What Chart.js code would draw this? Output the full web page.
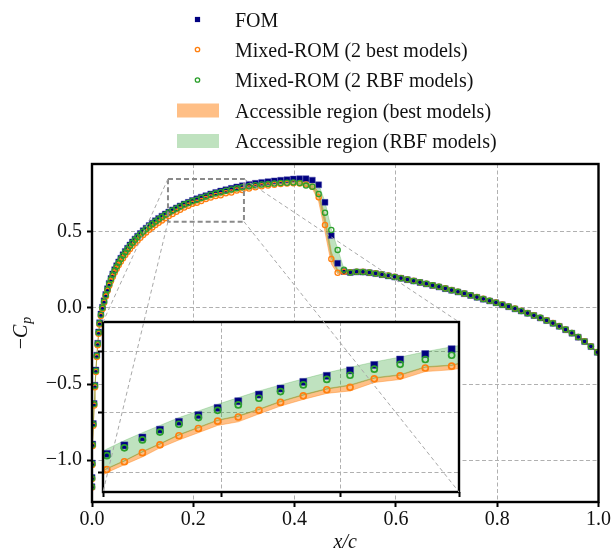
<!DOCTYPE html>
<html>
<head>
<meta charset="utf-8">
<script src="https://cdn.jsdelivr.net/npm/chart.js@4.4.1/dist/chart.umd.min.js"></script>
<style>
  html, body { margin: 0; padding: 0; background: #fff; }
  #wrap { position: relative; width: 612px; height: 555px; }
  #wrap canvas { position: absolute; left: 0; top: 0; }
  #inset { pointer-events: none; }
</style>
</head>
<body>
<div id="wrap">
  <canvas id="main" width="612" height="555"></canvas>
  <canvas id="inset" width="612" height="555"></canvas>
</div>
<script>
// chordwise stations x/c
const xc = [
  0.0000, 0.0002, 0.0006, 0.0014, 0.0026, 0.0042, 0.0059, 0.0077, 0.0095, 0.0113,
  0.0131, 0.0150, 0.0176, 0.0206, 0.0238, 0.0272, 0.0305, 0.0339, 0.0374, 0.0410,
  0.0448, 0.0487, 0.0527, 0.0569, 0.0612, 0.0656, 0.0702, 0.0749, 0.0798, 0.0848,
  0.0900, 0.0954, 0.1010, 0.1068, 0.1128, 0.1189, 0.1251, 0.1315, 0.1380, 0.1447,
  0.1516, 0.1590, 0.1666, 0.1740, 0.1820, 0.1902, 0.1983, 0.2070, 0.2157, 0.2248,
  0.2344, 0.2443, 0.2541, 0.2643, 0.2752, 0.2858, 0.2969, 0.3100, 0.3225, 0.3350,
  0.3475, 0.3600, 0.3725, 0.3850, 0.3975, 0.4100, 0.4225, 0.4350, 0.4475, 0.4600,
  0.4725, 0.4850, 0.4975, 0.5100, 0.5225, 0.5350, 0.5475, 0.5600, 0.5725, 0.5850,
  0.5975, 0.6100, 0.6225, 0.6350, 0.6475, 0.6600, 0.6725, 0.6850, 0.6975, 0.7100,
  0.7225, 0.7350, 0.7475, 0.7600, 0.7725, 0.7850, 0.7975, 0.8100, 0.8225, 0.8350,
  0.8475, 0.8600, 0.8725, 0.8850, 0.8975, 0.9100, 0.9225, 0.9350, 0.9475, 0.9600,
  0.9725, 0.9850, 0.9975
];

// -Cp, full order model
const cpFom = [
  -1.175, -1.115, -1.020, -0.895, -0.760, -0.628, -0.508, -0.408, -0.310, -0.232,
  -0.158, -0.097, -0.040, 0.005, 0.047, 0.089, 0.127, 0.162, 0.194, 0.224,
  0.252, 0.278, 0.303, 0.327, 0.350, 0.372, 0.393, 0.414, 0.434, 0.453,
  0.472, 0.490, 0.508, 0.525, 0.542, 0.558, 0.574, 0.589, 0.604, 0.618,
  0.631, 0.645, 0.658, 0.671, 0.684, 0.695, 0.707, 0.718, 0.729, 0.739,
  0.750, 0.760, 0.769, 0.778, 0.787, 0.796, 0.804, 0.813, 0.820, 0.826,
  0.831, 0.836, 0.840, 0.844, 0.848, 0.850, 0.850, 0.841, 0.810, 0.695,
  0.476, 0.294, 0.240, 0.233, 0.237, 0.236, 0.232, 0.226, 0.219, 0.211,
  0.203, 0.195, 0.186, 0.177, 0.168, 0.158, 0.148, 0.138, 0.127, 0.116,
  0.105, 0.094, 0.082, 0.070, 0.058, 0.046, 0.034, 0.021, 0.008, -0.006,
  -0.020, -0.035, -0.050, -0.066, -0.083, -0.101, -0.121, -0.143, -0.166, -0.192,
  -0.221, -0.254, -0.292
];

// -Cp, mixed ROM with the 2 best models
const cpBest = [
  -1.180, -1.125, -1.032, -0.908, -0.774, -0.642, -0.522, -0.421, -0.323, -0.245,
  -0.170, -0.109, -0.052, -0.007, 0.034, 0.075, 0.112, 0.146, 0.177, 0.206,
  0.233, 0.258, 0.282, 0.305, 0.327, 0.348, 0.368, 0.388, 0.407, 0.426,
  0.444, 0.462, 0.480, 0.497, 0.514, 0.530, 0.546, 0.561, 0.576, 0.591,
  0.605, 0.618, 0.633, 0.646, 0.661, 0.673, 0.685, 0.692, 0.703, 0.716,
  0.727, 0.737, 0.741, 0.755, 0.760, 0.773, 0.776, 0.786, 0.794, 0.801,
  0.806, 0.811, 0.815, 0.818, 0.820, 0.818, 0.812, 0.798, 0.728, 0.546,
  0.322, 0.232, 0.238, 0.235, 0.239, 0.238, 0.234, 0.228, 0.221, 0.213,
  0.205, 0.197, 0.188, 0.179, 0.170, 0.160, 0.150, 0.140, 0.129, 0.118,
  0.107, 0.096, 0.084, 0.072, 0.060, 0.048, 0.036, 0.023, 0.010, -0.004,
  -0.018, -0.033, -0.048, -0.064, -0.081, -0.099, -0.119, -0.141, -0.164, -0.190,
  -0.219, -0.252, -0.290
];

// -Cp, mixed ROM with the 2 RBF models
const cpRbf = [
  -1.178, -1.119, -1.024, -0.899, -0.764, -0.632, -0.512, -0.412, -0.314, -0.236,
  -0.162, -0.101, -0.044, 0.001, 0.043, 0.085, 0.122, 0.157, 0.189, 0.219,
  0.247, 0.273, 0.298, 0.322, 0.345, 0.367, 0.388, 0.409, 0.429, 0.448,
  0.467, 0.485, 0.503, 0.520, 0.537, 0.553, 0.569, 0.584, 0.599, 0.614,
  0.628, 0.641, 0.654, 0.667, 0.680, 0.691, 0.703, 0.712, 0.723, 0.734,
  0.745, 0.754, 0.761, 0.771, 0.779, 0.787, 0.794, 0.801, 0.807, 0.812,
  0.816, 0.819, 0.822, 0.824, 0.826, 0.822, 0.805, 0.798, 0.750, 0.627,
  0.513, 0.382, 0.252, 0.234, 0.238, 0.237, 0.233, 0.227, 0.220, 0.212,
  0.204, 0.196, 0.187, 0.178, 0.169, 0.159, 0.149, 0.139, 0.128, 0.117,
  0.106, 0.095, 0.083, 0.071, 0.059, 0.047, 0.035, 0.022, 0.009, -0.005,
  -0.019, -0.034, -0.049, -0.065, -0.082, -0.100, -0.120, -0.142, -0.165, -0.191,
  -0.220, -0.253, -0.291
];

// accessible region, best models (lower / upper)
const bestLo = [
  -1.186, -1.131, -1.038, -0.914, -0.780, -0.648, -0.528, -0.427, -0.329, -0.251,
  -0.176, -0.115, -0.058, -0.013, 0.028, 0.069, 0.106, 0.140, 0.171, 0.200,
  0.226, 0.251, 0.275, 0.298, 0.320, 0.341, 0.361, 0.381, 0.400, 0.419,
  0.437, 0.455, 0.473, 0.490, 0.507, 0.523, 0.539, 0.554, 0.569, 0.584,
  0.600, 0.613, 0.626, 0.641, 0.654, 0.666, 0.678, 0.684, 0.697, 0.710,
  0.721, 0.731, 0.735, 0.749, 0.754, 0.767, 0.770, 0.779, 0.787, 0.794,
  0.799, 0.804, 0.808, 0.811, 0.812, 0.808, 0.800, 0.786, 0.700, 0.500,
  0.290, 0.224, 0.232, 0.229, 0.233, 0.232, 0.228, 0.222, 0.215, 0.207,
  0.200, 0.192, 0.183, 0.174, 0.165, 0.155, 0.145, 0.135, 0.124, 0.113,
  0.102, 0.091, 0.079, 0.067, 0.055, 0.043, 0.031, 0.018, 0.005, -0.009,
  -0.023, -0.038, -0.053, -0.069, -0.086, -0.104, -0.124, -0.146, -0.169, -0.195,
  -0.224, -0.257, -0.296
];
const bestHi = [
  -1.176, -1.121, -1.028, -0.904, -0.770, -0.638, -0.518, -0.417, -0.319, -0.241,
  -0.166, -0.105, -0.048, -0.003, 0.038, 0.079, 0.116, 0.150, 0.181, 0.210,
  0.237, 0.262, 0.286, 0.309, 0.331, 0.352, 0.372, 0.392, 0.411, 0.430,
  0.448, 0.466, 0.484, 0.501, 0.518, 0.534, 0.550, 0.565, 0.580, 0.595,
  0.607, 0.620, 0.635, 0.648, 0.663, 0.675, 0.687, 0.694, 0.705, 0.718,
  0.729, 0.739, 0.745, 0.757, 0.762, 0.775, 0.778, 0.790, 0.798, 0.805,
  0.810, 0.815, 0.819, 0.822, 0.824, 0.823, 0.822, 0.808, 0.765, 0.600,
  0.370, 0.250, 0.244, 0.239, 0.243, 0.242, 0.238, 0.232, 0.225, 0.217,
  0.209, 0.201, 0.192, 0.183, 0.174, 0.164, 0.154, 0.144, 0.133, 0.122,
  0.111, 0.100, 0.088, 0.076, 0.064, 0.052, 0.040, 0.027, 0.014, 0.000,
  -0.014, -0.029, -0.044, -0.060, -0.077, -0.095, -0.115, -0.137, -0.160, -0.186,
  -0.215, -0.248, -0.286
];

// accessible region, RBF models (lower / upper)
const rbfLo = [
  -1.182, -1.123, -1.028, -0.903, -0.768, -0.636, -0.516, -0.416, -0.318, -0.240,
  -0.166, -0.105, -0.048, -0.003, 0.039, 0.079, 0.116, 0.150, 0.181, 0.210,
  0.237, 0.262, 0.286, 0.309, 0.331, 0.352, 0.372, 0.392, 0.411, 0.430,
  0.448, 0.466, 0.484, 0.501, 0.518, 0.534, 0.550, 0.565, 0.580, 0.595,
  0.606, 0.619, 0.634, 0.647, 0.662, 0.674, 0.686, 0.693, 0.704, 0.717,
  0.728, 0.738, 0.744, 0.756, 0.761, 0.774, 0.777, 0.789, 0.797, 0.804,
  0.809, 0.814, 0.818, 0.821, 0.822, 0.814, 0.800, 0.793, 0.735, 0.550,
  0.330, 0.235, 0.232, 0.229, 0.233, 0.232, 0.228, 0.222, 0.215, 0.207,
  0.200, 0.192, 0.183, 0.174, 0.165, 0.155, 0.145, 0.135, 0.124, 0.113,
  0.102, 0.091, 0.079, 0.067, 0.055, 0.043, 0.031, 0.018, 0.005, -0.009,
  -0.023, -0.038, -0.053, -0.069, -0.086, -0.104, -0.124, -0.146, -0.169, -0.195,
  -0.224, -0.257, -0.295
];
const rbfHi = [
  -1.172, -1.112, -1.017, -0.892, -0.757, -0.625, -0.505, -0.405, -0.307, -0.229,
  -0.155, -0.094, -0.037, 0.008, 0.050, 0.094, 0.132, 0.167, 0.199, 0.229,
  0.257, 0.283, 0.308, 0.332, 0.355, 0.377, 0.398, 0.419, 0.439, 0.458,
  0.477, 0.495, 0.513, 0.530, 0.547, 0.563, 0.579, 0.594, 0.609, 0.623,
  0.639, 0.653, 0.666, 0.678, 0.691, 0.702, 0.713, 0.724, 0.735, 0.745,
  0.755, 0.765, 0.774, 0.783, 0.791, 0.800, 0.808, 0.817, 0.824, 0.830,
  0.835, 0.840, 0.844, 0.848, 0.852, 0.854, 0.852, 0.843, 0.812, 0.700,
  0.520, 0.390, 0.258, 0.237, 0.241, 0.240, 0.236, 0.230, 0.223, 0.215,
  0.207, 0.199, 0.190, 0.181, 0.172, 0.162, 0.152, 0.142, 0.131, 0.120,
  0.109, 0.098, 0.086, 0.074, 0.062, 0.050, 0.038, 0.025, 0.012, -0.002,
  -0.016, -0.031, -0.046, -0.062, -0.079, -0.097, -0.117, -0.139, -0.162, -0.188,
  -0.217, -0.250, -0.288
];

const xTicks = [0.0, 0.2, 0.4, 0.6, 0.8, 1.0];
const yTicks = [-1.0, -0.5, 0.0, 0.5];
const yRange = [-1.276, 0.947];

// zoomed window
const insetX = [0.15, 0.30];
const insetY = [0.568, 0.849];
const insetXTicks = [0.15, 0.20, 0.25, 0.30];
const insetYTicks = [0.6, 0.7, 0.8];

const labels = [
  "FOM",
  "Mixed-ROM (2 best models)",
  "Mixed-ROM (2 RBF models)",
  "Accessible region (best models)",
  "Accessible region (RBF models)"
];

const NAVY = '#000080', ORANGE = '#ff7f0e', GREEN = '#2ca02c';
const ORANGE_FILL = 'rgba(255,127,14,0.5)', GREEN_FILL = 'rgba(44,160,44,0.3)';
const FONT = "'Liberation Serif', 'Times New Roman', serif";
const INK = '#111';

Chart.defaults.font.family = FONT;
Chart.defaults.font.size = 20;
Chart.defaults.color = INK;

function pts(ys) {
  return xc.map((x, i) => ({x: x, y: ys[i]}));
}

function fmtTick(v) {
  return (v < 0 ? '\u2212' : '') + Math.abs(v).toFixed(1);
}

// m: marker sizes {sq, circ, lw}
function makeDatasets(m, clip) {
  const ds = [
    {label: labels[0], data: pts(cpFom), showLine: false, pointStyle: 'rect', pointRadius: m.sq,
     pointBackgroundColor: NAVY, pointBorderColor: 'rgba(70,70,170,0.45)', pointBorderWidth: 1, order: 3},
    {label: labels[1], data: pts(cpBest), showLine: false, pointStyle: 'circle', pointRadius: m.circ,
     pointBackgroundColor: 'rgba(0,0,0,0)', pointBorderColor: ORANGE, pointBorderWidth: m.lw, order: 2},
    {label: labels[2], data: pts(cpRbf), showLine: false, pointStyle: 'circle', pointRadius: m.circ,
     pointBackgroundColor: 'rgba(0,0,0,0)', pointBorderColor: GREEN, pointBorderWidth: m.lw, order: 1},
    {label: 'best lower', data: pts(bestLo), pointRadius: 0, borderColor: ORANGE_FILL, borderWidth: 0.8,
     fill: false, order: 6},
    {label: labels[3], data: pts(bestHi), pointRadius: 0, borderColor: ORANGE_FILL, borderWidth: 0.8,
     backgroundColor: ORANGE_FILL, fill: '-1', order: 6},
    {label: 'rbf lower', data: pts(rbfLo), pointRadius: 0, borderColor: GREEN_FILL, borderWidth: 0.8,
     fill: false, order: 5},
    {label: labels[4], data: pts(rbfHi), pointRadius: 0, borderColor: GREEN_FILL, borderWidth: 0.8,
     backgroundColor: GREEN_FILL, fill: '-1', order: 5}
  ];
  if (clip !== undefined) ds.forEach(d => { d.clip = clip; });
  return ds;
}

function gridOpts() {
  return {color: '#b0b0b0', lineWidth: 1, tickLength: 5, tickWidth: 2, tickColor: '#000'};
}

// frame, zoom box, legend and y title of the main axes
const mainDecor = {
  id: 'mainDecor',
  afterDatasetsDraw(chart) {
    const ctx = chart.ctx, sx = chart.scales.x, sy = chart.scales.y;
    const l = sx.getPixelForValue(insetX[0]), r = sx.getPixelForValue(insetX[1]);
    const t = sy.getPixelForValue(insetY[1]), b = sy.getPixelForValue(insetY[0]);
    ctx.save();
    ctx.strokeStyle = '#8a8a8a';
    ctx.lineWidth = 2;
    ctx.setLineDash([5, 3]);
    ctx.strokeRect(l, t, r - l, b - t);
    ctx.restore();
  },
  afterDraw(chart) {
    const ctx = chart.ctx, a = chart.chartArea;
    ctx.save();
    ctx.strokeStyle = '#000';
    ctx.lineWidth = 2.4;
    ctx.strokeRect(a.left, a.top, a.right - a.left, a.bottom - a.top);

    // legend
    const rowY = [19.5, 49.5, 80, 110.5, 141];
    const mx = 197.5;
    ctx.font = '20px ' + FONT;
    ctx.fillStyle = INK;
    ctx.textBaseline = 'alphabetic';
    labels.forEach((txt, i) => {
      const y = rowY[i];
      if (i === 0) {
        ctx.fillStyle = NAVY;
        ctx.fillRect(mx - 2.6, y - 2.6, 5.2, 5.2);
      } else if (i < 3) {
        ctx.strokeStyle = i === 1 ? ORANGE : GREEN;
        ctx.lineWidth = 1.3;
        ctx.beginPath();
        ctx.arc(mx, y, 2.2, 0, Math.PI * 2);
        ctx.stroke();
      } else {
        ctx.fillStyle = i === 3 ? ORANGE_FILL : GREEN_FILL;
        ctx.fillRect(177, y - 7, 42, 14);
      }
      ctx.fillStyle = INK;
      ctx.fillText(txt, 235, y + 7);
    });

    // y axis title: -C_p
    ctx.translate(27, 333);
    ctx.rotate(-Math.PI / 2);
    ctx.font = '20px ' + FONT;
    const wm = ctx.measureText('\u2212').width;
    ctx.font = 'italic 20px ' + FONT;
    const wc = ctx.measureText('C').width;
    ctx.font = 'italic 14px ' + FONT;
    const wp = ctx.measureText('p').width;
    let x0 = -(wm + wc + wp + 1) / 2;
    ctx.font = '20px ' + FONT;
    ctx.fillText('\u2212', x0, 0);
    ctx.font = 'italic 20px ' + FONT;
    ctx.fillText('C', x0 + wm, 0);
    ctx.font = 'italic 14px ' + FONT;
    ctx.fillText('p', x0 + wm + wc + 1, 4);
    ctx.restore();
  }
};

const mainChart = new Chart(document.getElementById('main'), {
  type: 'line',
  data: {datasets: makeDatasets({sq: 4.2, circ: 2.6, lw: 1.3})},
  options: {
    responsive: false,
    animation: false,
    events: [],
    layout: {padding: {left: 0, right: 12, top: 164, bottom: 0}},
    plugins: {legend: {display: false}, tooltip: {enabled: false}},
    scales: {
      x: {
        type: 'linear', min: 0, max: 1,
        afterBuildTicks: s => { s.ticks = xTicks.map(v => ({value: v})); },
        afterFit: s => { s.height = 53; },
        grid: gridOpts(),
        border: {display: false, dash: [4, 2.5]},
        ticks: {padding: 1, maxRotation: 0, callback: v => v.toFixed(1)},
        title: {display: true, text: 'x/c', font: {style: 'italic', size: 20}, padding: {top: 0, bottom: 0}}
      },
      y: {
        type: 'linear', min: yRange[0], max: yRange[1],
        afterBuildTicks: s => { s.ticks = yTicks.map(v => ({value: v})); },
        afterFit: s => { s.width = 92; },
        grid: gridOpts(),
        border: {display: false, dash: [4, 2.5]},
        ticks: {padding: 5, callback: v => fmtTick(v)}
      }
    }
  },
  plugins: [mainDecor]
});

// white face, frame and the connectors towards the zoom box
const insetDecor = {
  id: 'insetDecor',
  beforeDraw(chart) {
    const ctx = chart.ctx, a = chart.chartArea;
    ctx.save();
    ctx.fillStyle = '#fff';
    ctx.fillRect(a.left, a.top, a.right - a.left, a.bottom - a.top);
    ctx.restore();
  },
  afterDraw(chart) {
    const ctx = chart.ctx, a = chart.chartArea;
    const sx = mainChart.scales.x, sy = mainChart.scales.y;
    const l = sx.getPixelForValue(insetX[0]), r = sx.getPixelForValue(insetX[1]);
    const t = sy.getPixelForValue(insetY[1]), b = sy.getPixelForValue(insetY[0]);
    ctx.save();
    ctx.strokeStyle = '#000';
    ctx.lineWidth = 2.4;
    ctx.strokeRect(a.left, a.top, a.right - a.left, a.bottom - a.top);
    ctx.strokeStyle = '#a8a8a8';
    ctx.lineWidth = 1;
    ctx.setLineDash([4, 3]);
    [[l, t, a.left, a.top], [l, b, a.left, a.bottom], [r, t, a.right, a.top], [r, b, a.right, a.bottom]]
      .forEach(s => {
        ctx.beginPath();
        ctx.moveTo(s[0], s[1]);
        ctx.lineTo(s[2], s[3]);
        ctx.stroke();
      });
    ctx.restore();
  }
};

const insetChart = new Chart(document.getElementById('inset'), {
  type: 'line',
  data: {datasets: makeDatasets({sq: 5, circ: 3, lw: 1.7}, 0)},
  options: {
    responsive: false,
    animation: false,
    events: [],
    layout: {padding: {left: 98, right: 153, top: 322, bottom: 58}},
    plugins: {legend: {display: false}, tooltip: {enabled: false}},
    scales: {
      x: {
        type: 'linear', min: insetX[0], max: insetX[1],
        afterBuildTicks: s => { s.ticks = insetXTicks.map(v => ({value: v})); },
        afterFit: s => { s.height = 5; },
        grid: gridOpts(),
        border: {display: false, dash: [4, 2.5]},
        ticks: {display: false}
      },
      y: {
        type: 'linear', min: insetY[0], max: insetY[1],
        afterBuildTicks: s => { s.ticks = insetYTicks.map(v => ({value: v})); },
        afterFit: s => { s.width = 5; },
        grid: gridOpts(),
        border: {display: false, dash: [4, 2.5]},
        ticks: {display: false}
      }
    }
  },
  plugins: [insetDecor]
});
</script>
</body>
</html>
